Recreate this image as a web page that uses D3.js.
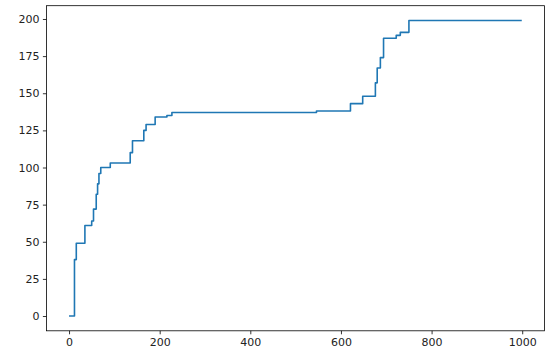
<!DOCTYPE html>
<html>
<head>
<meta charset="utf-8">
<script src="https://cdn.jsdelivr.net/npm/d3@7"></script>
<style>
  body { margin: 0; background: #fff; }
  svg { display: block; }
  .axis text { font-family: "DejaVu Sans", sans-serif; font-size: 11px; fill: #222; }
  .axis path, .axis line { stroke: #000; stroke-width: 0.8; }
</style>
</head>
<body>
<svg id="chart"></svg>
<script>
// step change points (x where the count changes, and the new count)
const stepX = [0, 12, 16, 35, 50, 54, 60, 63, 66, 70, 91, 135, 140, 165, 170, 190, 216, 227,
  546, 621, 648, 676, 680, 687, 694, 722, 731, 750, 999];
const stepY = [0, 38, 49, 61, 64, 72, 82, 89, 96, 100, 103, 110, 118, 125, 129, 134, 135, 137,
  138, 143, 148, 157, 167, 174, 187, 189, 191, 199, 199];
const xTicks = [0, 200, 400, 600, 800, 1000];
const yTicks = [0, 25, 50, 75, 100, 125, 150, 175, 200];

const margin = { top: 5.7, right: 4.6, bottom: 30.2, left: 46.4 },
  width = 549 - margin.left - margin.right,
  height = 361 - margin.top - margin.bottom;

const svg = d3
  .select("#chart")
  .attr("width", 549)
  .attr("height", 361)
  .append("g")
  .attr("transform", "translate(" + margin.left + "," + margin.top + ")");

const data = stepX.map((x, i) => ({ x: x, y: stepY[i] }));

// matplotlib style 5% margins
const xPad = (999 - 0) * 0.05, yPad = (199 - 0) * 0.05;
const x = d3.scaleLinear().domain([0 - xPad, 999 + xPad]).range([0, width]);
const y = d3.scaleLinear().domain([0 - yPad, 199 + yPad]).range([height, 0]);

const line = d3
  .line()
  .x((d) => x(d.x))
  .y((d) => y(d.y))
  .curve(d3.curveStepAfter);

svg
  .append("path")
  .datum(data)
  .attr("fill", "none")
  .attr("stroke", "#1f77b4")
  .attr("stroke-width", 1.6)
  .attr("stroke-linejoin", "round")
  .attr("d", line);

svg
  .append("g")
  .attr("class", "axis")
  .attr("transform", "translate(0," + height + ")")
  .call(d3.axisBottom(x).tickValues(xTicks).tickFormat(d3.format("d"))
    .tickSize(3.5).tickPadding(3.5).tickSizeOuter(0))
  .select(".domain").remove();

svg
  .append("g")
  .attr("class", "axis")
  .call(d3.axisLeft(y).tickValues(yTicks).tickFormat(d3.format("d"))
    .tickSize(3.5).tickPadding(3.5).tickSizeOuter(0))
  .select(".domain").remove();

// frame
svg
  .append("rect")
  .attr("width", width)
  .attr("height", height)
  .attr("fill", "none")
  .attr("stroke", "#000")
  .attr("stroke-width", 0.8);
</script>
</body>
</html>
